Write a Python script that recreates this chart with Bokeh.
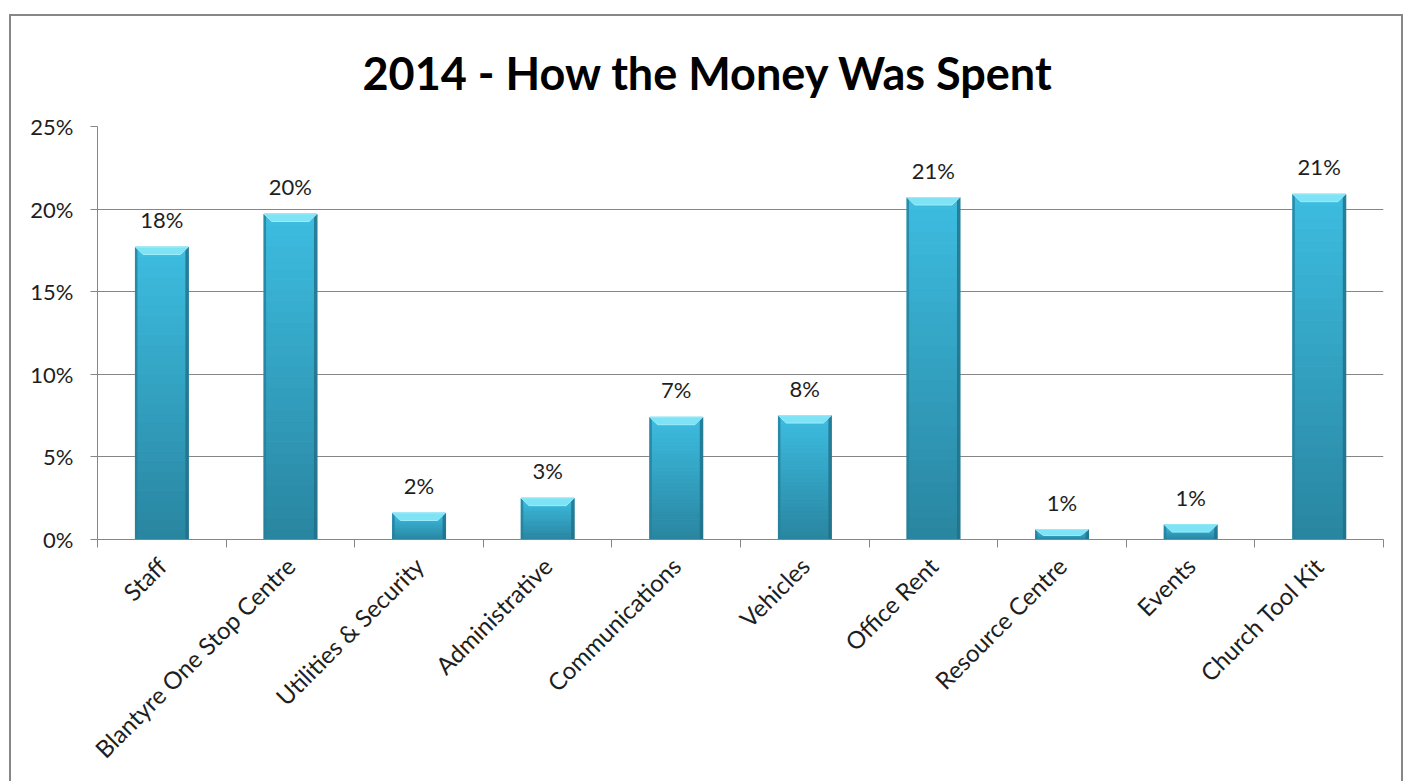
import math

from bokeh.core.properties import value
from bokeh.embed import file_html
from bokeh.models import ColumnDataSource, FixedTicker, LabelSet, PrintfTickFormatter, Range1d
from bokeh.plotting import figure
from bokeh.resources import INLINE

# Spending shares, in percent of the total
categories = [
    "Staff",
    "Blantyre One Stop Centre",
    "Utilities & Security",
    "Administrative",
    "Communications",
    "Vehicles",
    "Office Rent",
    "Resource Centre",
    "Events",
    "Church Tool Kit",
]
shares = [17.7, 19.7, 1.6, 2.5, 7.4, 7.5, 20.7, 0.6, 0.9, 20.9]
y_ticks = [0, 5, 10, 15, 20, 25]

FONT = "Lato"
GRID = "#868686"
TEXT = "#1e1e1e"

BAR_W = 0.41
N_SLICES = 30
BOTTOM_RGB = (0x29, 0x85, 0xA0)
TOP_RGB = (0x3D, 0xBD, 0xE1)


def mix(a, b, t):
    return "#%02x%02x%02x" % tuple(int(round(a[i] + (b[i] - a[i]) * t)) for i in range(3))


centers = [i + 0.5 for i in range(len(categories))]
labels = ["%d%%" % math.floor(v + 0.5) for v in shares]

p = figure(
    width=1394,
    height=767,
    x_range=Range1d(0, len(categories)),
    y_range=Range1d(0, 25),
    output_backend="svg",
    toolbar_location=None,
    min_border_left=86,
    min_border_right=22,
    min_border_top=110,
    min_border_bottom=244,
    margin=(14, 0, 0, 9),
    styles={
        "border-top": "2px solid #878787",
        "border-left": "2px solid #878787",
        "border-right": "2px solid #878787",
    },
)
p.outline_line_color = None
p.background_fill_color = "white"
p.border_fill_color = "white"

# Title, centred on the whole chart rather than on the plot frame
p.title.text = "2014 - How the Money Was Spent"
p.title.text_font = FONT
p.title.text_font_size = "45px"
p.title.text_font_style = "bold"
p.title.text_color = "black"
p.title.align = "left"
p.title.offset = 265
p.title.standoff = 53

# Bars: vertical gradient built from horizontal slices of each bar
sl_l, sl_r, sl_b, sl_t, sl_c = [], [], [], [], []
for c, v in zip(centers, shares):
    for k in range(N_SLICES):
        sl_l.append(c - BAR_W / 2)
        sl_r.append(c + BAR_W / 2)
        sl_b.append(v * k / N_SLICES)
        sl_t.append(v * (k + 1) / N_SLICES)
        sl_c.append(mix(BOTTOM_RGB, TOP_RGB, (k + 0.5) / N_SLICES))
p.quad(left=sl_l, right=sl_r, bottom=sl_b, top=sl_t, fill_color=sl_c, line_color=sl_c, line_width=1)

# Darker side edges of each bar
edges = ColumnDataSource(dict(
    xl=[c - BAR_W / 2 + 0.006 for c in centers],
    xr=[c + BAR_W / 2 - 0.008 for c in centers],
    y0=[0] * len(shares),
    y1=shares,
))
p.segment(x0="xl", x1="xl", y0="y0", y1="y1", source=edges, line_color="#25809a", line_width=2.5, line_alpha=0.8)
p.segment(x0="xr", x1="xr", y0="y0", y1="y1", source=edges, line_color="#206f87", line_width=3.5, line_alpha=0.8)

# Bevelled highlight along the top of each bar
bev_dx = 0.06
bev_dy = 0.45
xs, ys = [], []
for c, v in zip(centers, shares):
    dy = min(bev_dy, v * 0.6)
    l, r = c - BAR_W / 2, c + BAR_W / 2
    xs.append([l, r, r - bev_dx, l + bev_dx])
    ys.append([v, v, v - dy, v - dy])
p.patches(xs, ys, fill_color="#7fe3f6", line_color="#9cecfa", line_width=1)

# Value labels above the bars
src = ColumnDataSource(dict(x=centers, y=shares, text=labels))
p.add_layout(LabelSet(
    x="x", y="y", text="text", source=src,
    text_align="center", text_baseline="alphabetic", y_offset=19,
    text_font=value(FONT), text_font_size="22px", text_color=TEXT,
))

# Y axis and grid
p.yaxis.ticker = FixedTicker(ticks=y_ticks)
p.yaxis.formatter = PrintfTickFormatter(format="%d%%")
p.yaxis.axis_line_color = GRID
p.yaxis.major_tick_line_color = GRID
p.yaxis.major_tick_out = 7
p.yaxis.major_tick_in = 0
p.yaxis.minor_tick_line_color = None
p.yaxis.major_label_standoff = 17
p.yaxis.major_label_text_font = FONT
p.yaxis.major_label_text_font_size = "22px"
p.yaxis.major_label_text_color = TEXT

p.ygrid.ticker = FixedTicker(ticks=y_ticks)
p.ygrid.grid_line_color = GRID
p.ygrid.grid_line_width = 1
p.xgrid.grid_line_color = None

# X axis: category names at bar centres, tick marks between categories
p.xaxis.ticker = FixedTicker(ticks=centers, minor_ticks=list(range(len(categories) + 1)))
p.xaxis.major_label_overrides = {c: name for c, name in zip(centers, categories)}
p.xaxis.major_tick_line_color = None
p.xaxis.minor_tick_line_color = GRID
p.xaxis.minor_tick_out = 8
p.xaxis.minor_tick_in = 0
p.xaxis.axis_line_color = GRID
p.xaxis.major_label_orientation = math.pi / 4
p.xaxis.major_label_standoff = 14
p.xaxis.major_label_text_font = FONT
p.xaxis.major_label_text_font_size = "24px"
p.xaxis.major_label_text_color = TEXT

open("out.html", "w").write(file_html(p, INLINE))
